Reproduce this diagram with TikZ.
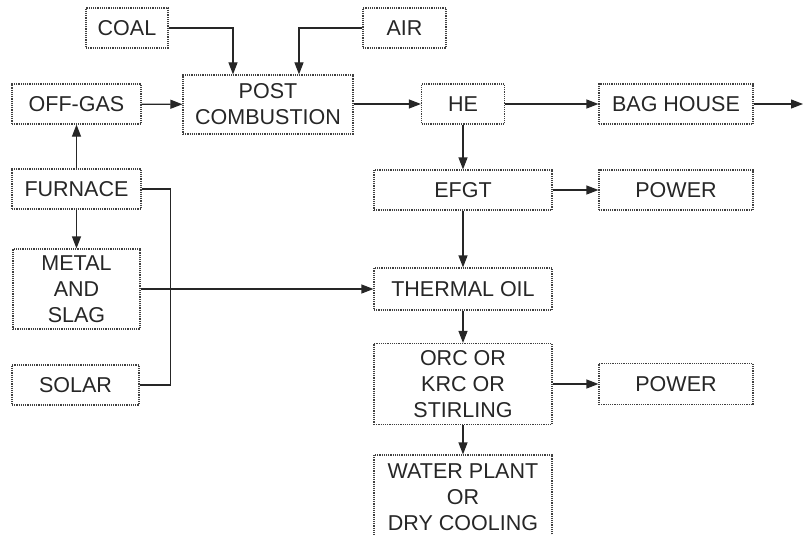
\documentclass[tikz,border=0pt]{standalone}
\usepackage{fontspec}
\setmainfont{Liberation Sans}
\usepackage{tikz}
\usetikzlibrary{arrows.meta,positioning}

\begin{document}
\begin{tikzpicture}[
    x=1pt, y=-1pt,
    font=\fontsize{21.5}{26}\selectfont,
    box/.style={draw=black!75, densely dotted, line width=1.2pt, rectangle, inner sep=0pt, minimum height=40pt, align=center, text=black!85},
    arrow/.style={-{Triangle[length=12pt,width=9pt]}, line width=1.2pt, black!85},
    link/.style={line width=1.2pt, black!85}
]
\clip (0,0) rectangle (804,535);

% top inputs
\node[box, minimum width=82pt] (coal) at (127,28) {COAL};
\node[box, minimum width=83pt] (air) at (404.5,28) {AIR};

% first row
\node[box, minimum width=129pt] (offgas) at (76.5,104) {OFF-GAS};
\node[box, minimum width=170pt, minimum height=59pt] (post) at (268,104.5) {POST\\COMBUSTION};
\node[box, minimum width=83pt] (he) at (463,104) {HE};
\node[box, minimum width=154pt] (bag) at (676,104) {BAG HOUSE};
\coordinate (stack) at (803,104);

% left column
\node[box, minimum width=129pt] (furnace) at (76.5,189) {FURNACE};
\node[box, minimum width=127pt, minimum height=80pt] (metal) at (76.5,289) {METAL\\AND\\SLAG};
\node[box, minimum width=127pt] (solar) at (75.5,385) {SOLAR};

% right column
\node[box, minimum width=178pt] (efgt) at (463,190) {EFGT};
\node[box, minimum width=154pt] (power1) at (676,190) {POWER};
\node[box, minimum width=178pt, minimum height=42pt] (thermal) at (463,289) {THERMAL OIL};
\node[box, minimum width=178pt, minimum height=81pt] (orc) at (463,384) {ORC OR\\KRC OR\\STIRLING};
\node[box, minimum width=154pt, minimum height=41pt] (power2) at (676,384) {POWER};
\node[box, minimum width=178pt, minimum height=84pt] (water) at (463,497) {WATER PLANT\\OR\\DRY COOLING};

\draw[arrow] (coal.east) -| ([xshift=-35]post.north);
\draw[arrow] (air.west) -| ([xshift=31]post.north);
\draw[arrow] (offgas) -- (post);
\draw[arrow] (post.east |- he.west) -- (he.west);
\draw[arrow] (he) -- (bag);
\draw[arrow] (bag) -- (stack);
\draw[arrow] (furnace) -- (offgas);
\draw[arrow] (furnace) -- (metal.north -| furnace.south);
\draw[arrow] (he) -- (efgt);
\draw[arrow] (efgt) -- (power1);
\draw[arrow] (efgt) -- (thermal);
\draw[arrow] (metal) -- (thermal);
\draw[arrow] (thermal) -- (orc);
\draw[arrow] (orc) -- (power2);
\draw[arrow] (orc) -- (water);
\draw[link] (furnace.east) -- ++(29,0) |- (solar.east);

\end{tikzpicture}
\end{document}
